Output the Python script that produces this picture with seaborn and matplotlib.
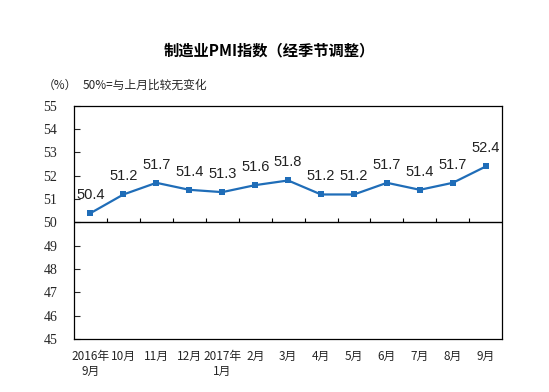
import numpy as np
import pandas as pd
import matplotlib
matplotlib.use("Agg")
import matplotlib.pyplot as plt
import seaborn as sns

months = ["2016年\n9月", "10月", "11月", "12月", "2017年\n1月", "2月", "3月",
          "4月", "5月", "6月", "7月", "8月", "9月"]
pmi = [50.4, 51.2, 51.7, 51.4, 51.3, 51.6, 51.8, 51.2, 51.2, 51.7, 51.4, 51.7, 52.4]
yticks = [45, 46, 47, 48, 49, 50, 51, 52, 53, 54, 55]

sns.set_style("white")
plt.rcParams['font.family'] = ['Noto Sans CJK SC', 'DejaVu Sans']

df = pd.DataFrame({"x": np.arange(len(months)), "pmi": pmi})

fig = plt.figure(figsize=(5.49, 3.92), dpi=100)
ax = fig.add_axes([0.1348, 0.135, 0.78, 0.595])

sns.lineplot(data=df, x="x", y="pmi", ax=ax, color="#1F6DB8", linewidth=1.6,
             marker="s", markersize=4, markeredgewidth=0)

ax.set_xlim(-0.5, len(months) - 0.5)
ax.set_ylim(45, 55)
ax.set_yticks(yticks)
ax.set_yticklabels([str(v) for v in yticks])
for lab in ax.get_yticklabels():
    lab.set_fontfamily("Liberation Serif")
    lab.set_fontsize(10)
ax.tick_params(axis="y", direction="in", length=4, width=0.8, pad=12, left=True)

ax.set_xticks(df["x"])
ax.set_xticklabels(months, fontsize=8.5, linespacing=1.15)
ax.tick_params(axis="x", length=0, pad=8)
ax.set_xlabel("")
ax.set_ylabel("")

# 50 baseline with tick marks between months
ax.axhline(50, color="black", linewidth=1)
ax.vlines(np.arange(len(months) - 1) + 0.5, 50, 50.2, color="black", linewidth=0.8)

for s in ax.spines.values():
    s.set_color("black")
    s.set_linewidth(0.9)

for i, v in enumerate(pmi):
    ax.annotate(f"{v}", (i, v), xytext=(0, 8), textcoords="offset points",
                ha="center", va="bottom", fontsize=10.5, family="Liberation Sans",
                color="#222222")

fig.text(0.49, 0.87, "制造业PMI指数（经季节调整）", ha="center", va="center",
         fontsize=11, fontweight="bold", color="black")
fig.text(0.078, 0.783, "（%）", ha="left", va="center", fontsize=8.5)
fig.text(0.151, 0.783, "50%=与上月比较无变化", ha="left", va="center", fontsize=8.5)

fig.savefig("out.png", dpi=100)
